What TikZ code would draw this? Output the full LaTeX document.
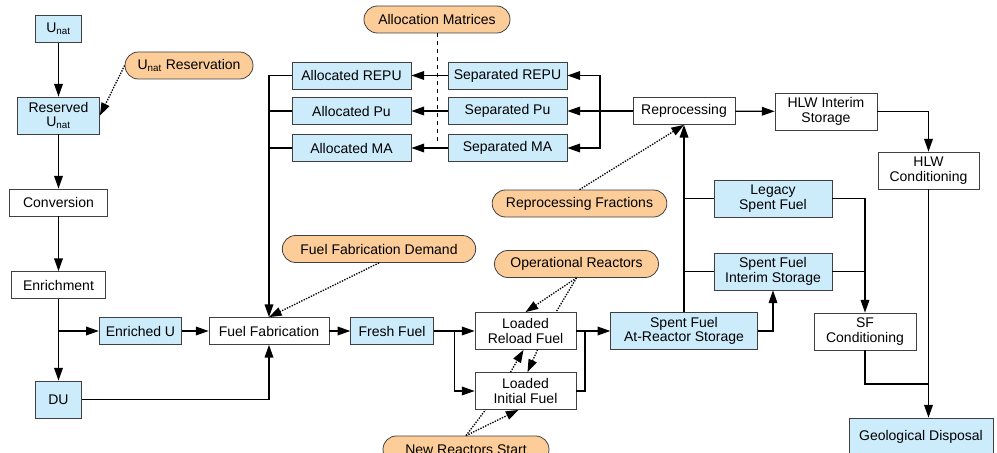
\documentclass[tikz,border=0pt]{standalone}
\usepackage{fontspec}
\setmainfont{Liberation Sans}
\usetikzlibrary{arrows.meta,calc}

\definecolor{storeblue}{RGB}{204,236,252}
\definecolor{paramorange}{RGB}{252,204,153}

\tikzset{
    facility/.style={draw=black!75, line width=0.6pt, fill=white, inner sep=2pt,
        minimum height=20.25pt, align=center, font=\fontsize{10.5}{11}\selectfont},
    material/.style={facility, fill=storeblue},
    twoline/.style={minimum height=27.75pt},
    param/.style={facility, fill=paramorange, rounded corners=10pt},
    flow/.style={line width=0.9pt, -{Triangle[length=9.5pt,width=6.5pt]}},
    pipe/.style={line width=0.9pt},
    hint/.style={line width=1pt, densely dotted, -{Triangle[length=9.5pt,width=6.5pt]}},
    hintline/.style={line width=1pt, densely dotted},
}

\begin{document}
\begin{tikzpicture}[x=0.75pt, y=-0.75pt]
    % Frame of the picture
    \clip (0,0) rectangle (997,453);

    % Front end of the cycle
    \node[material, minimum width=34pt] (unat) at (58.5,29) {U\textsubscript{nat}};
    \node[material, twoline, minimum width=61.5pt] (resunat) at (58.5,115.5) {Reserved\\U\textsubscript{nat}};
    \node[facility, minimum width=73.5pt] (conv) at (58.5,202.5) {Conversion};
    \node[facility, minimum width=70.5pt] (enrich) at (58.5,285) {Enrichment};
    \node[material, minimum width=62pt] (enru) at (140.5,331) {Enriched U};
    \node[material, twoline, minimum width=34.5pt] (du) at (58.5,399.5) {DU};
    \node[facility, minimum width=90pt] (fab) at (269,331) {Fuel Fabrication};
    \node[material, minimum width=62pt] (fresh) at (392,331) {Fresh Fuel};

    % Reactors
    \node[facility, twoline, minimum width=75.75pt] (reload) at (525.5,331) {Loaded\\Reload Fuel};
    \node[facility, twoline, minimum width=75.75pt] (initial) at (525.5,391) {Loaded\\Initial Fuel};

    % Back end of the cycle
    \node[material, twoline, minimum width=110pt] (arstore) at (684,331) {Spent Fuel\\At-Reactor Storage};
    \node[material, twoline, minimum width=88.5pt] (sfis) at (773,271.5) {Spent Fuel\\Interim Storage};
    \node[material, twoline, minimum width=88.5pt] (legacy) at (773,198.5) {Legacy\\Spent Fuel};
    \node[facility, minimum width=76.5pt] (repro) at (684,111) {Reprocessing};
    \node[facility, twoline, minimum width=76.5pt] (hlwis) at (826,111.5) {HLW Interim\\Storage};
    \node[facility, twoline, minimum width=75.75pt] (hlwcond) at (928.5,170.5) {HLW\\Conditioning};
    \node[facility, twoline, minimum width=76.5pt] (sfcond) at (865,331.5) {SF\\Conditioning};
    \node[material, twoline, minimum width=108pt] (geo) at (921,436.5) {Geological Disposal};

    % Separated and allocated materials
    \node[material, minimum width=89.25pt] (allrepu) at (351.5,75.5) {Allocated REPU};
    \node[material, minimum width=89.25pt] (allpu) at (351.5,111) {Allocated Pu};
    \node[material, minimum width=89.25pt] (allma) at (351.5,148) {Allocated MA};
    \node[material, minimum width=89.25pt] (seprepu) at (507.5,75.5) {Separated REPU};
    \node[material, minimum width=89.25pt] (seppu) at (507.5,111) {Separated Pu};
    \node[material, minimum width=89.25pt] (sepma) at (507.5,148) {Separated MA};

    % Parameters
    \node[param, minimum width=96pt] (unatres) at (189,65.5) {U\textsubscript{nat} Reservation};
    \node[param, minimum width=109.5pt] (allocmat) at (437,19.5) {Allocation Matrices};
    \node[param, minimum width=131pt] (fractions) at (579.5,203.5) {Reprocessing Fractions};
    \node[param, minimum width=145pt] (fabdemand) at (379,249) {Fuel Fabrication Demand};
    \node[param, minimum width=123pt] (opreact) at (576.5,264) {Operational Reactors};
    \node[param, minimum width=124.5pt] (newreact) at (466,449.5) {New Reactors Start};

    % Junctions
    \coordinate (ffsplit) at ($(fresh.east)!0.5!(reload.west)$);
    \coordinate (rjoin) at (585,331);
    \coordinate (rsplit) at ($(seppu.east)!0.5!(repro.west)$);
    \coordinate (wastejoin) at (928.5,384);

    % Front end flows
    \draw[flow] (unat) -- (resunat);
    \draw[flow] (resunat) -- (conv);
    \draw[flow] (conv) -- (enrich);
    \draw[flow] (enrich) -- (du);
    \draw[flow] (enrich.south) |- (enru);
    \draw[flow] (enru) -- (fab);
    \draw[flow] (du) -| (fab);
    \draw[flow] (allrepu.west) -| (fab.north);
    \draw[pipe] (allpu.west) -- (allpu.west -| fab.north);
    \draw[pipe] (allma.west) -- (allma.west -| fab.north);
    \draw[flow] (fab) -- (fresh);

    % Reactor flows
    \draw[flow] (fresh) -- (reload);
    \draw[flow] (ffsplit) |- (initial);
    \draw[flow] (reload) -- (arstore);
    \draw[pipe] (initial.east) -| (rjoin);

    % Back end flows
    \draw[flow] (arstore) -| (sfis);
    \draw[flow] (arstore) -- (repro);
    \draw[pipe] (sfis.west) -- (sfis.west -| repro.south);
    \draw[pipe] (legacy.west) -- (legacy.west -| repro.south);
    \draw[flow] (legacy.east) -| (sfcond.north);
    \draw[pipe] (sfis.east) -- (sfis.east -| sfcond.north);
    \draw[flow] (repro) -- (hlwis);
    \draw[flow] (hlwis) -| (hlwcond);
    \draw[flow] (hlwcond.south) -- (hlwcond.south |- geo.north);
    \draw[pipe] (sfcond.south) |- (wastejoin);

    % Reprocessed materials
    \draw[flow] (repro) -- (seppu);
    \draw[flow] (rsplit) |- (seprepu);
    \draw[flow] (rsplit) |- (sepma);
    \draw[flow] (seprepu) -- (allrepu);
    \draw[flow] (seppu) -- (allpu);
    \draw[flow] (sepma) -- (allma);
    \draw[line width=0.6pt, dashed] (allocmat.south) -- (allocmat.south |- 0,145);

    % Parameter links
    \draw[hint] (unatres.west) -- (resunat.east);
    \draw[hint] (fabdemand.south) -- (fab.north);
    \draw[hint] (fractions.north) -- (repro.south);
    \draw[hint] (opreact.south) -- (reload.north);
    \draw[hintline] (opreact.south) -- ($(reload.north)!0.6!(reload.north east)$);
    \draw[hint] ($(initial.north)+(-15,0)$) -- ($(reload.south)+(-2,0)$);
    \draw[hint] ($(reload.south)+(12,0)$) -- ($(initial.north)+(2,0)$);
    \draw[hintline] (newreact.north) -- ($(initial.south)+(-40,0)$);
    \draw[hint] (newreact.north) -- ($(initial.south)+(-7,0)$);
\end{tikzpicture}
\end{document}
